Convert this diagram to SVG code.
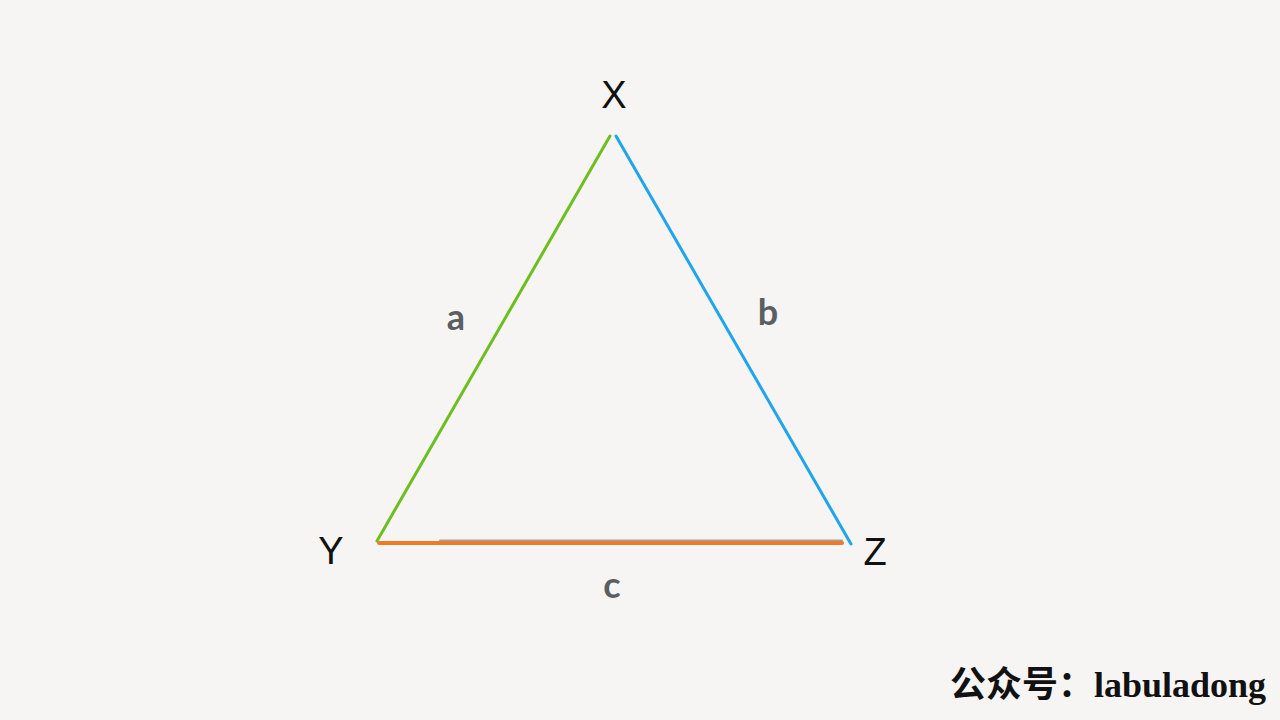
<svg xmlns="http://www.w3.org/2000/svg" width="1280" height="720" viewBox="0 0 1280 720">
<style>
.v{font-family:"Liberation Sans",Arial,sans-serif;font-size:38px;fill:#111;text-anchor:middle}
.e{font-family:"Lato","Open Sans",sans-serif;font-weight:bold;font-size:36px;fill:#5b5e62;text-anchor:middle}
.w{font-family:"Liberation Serif","Noto Sans CJK SC",serif;font-weight:bold;font-size:36px;fill:#111}
</style>
<rect width="1280" height="720" fill="#f6f5f3"/>
<g id="connectors" stroke-linecap="round">
<line x1="377" y1="541" x2="610" y2="136" stroke="#6bbf1f" stroke-width="3"/>
<line x1="616" y1="136" x2="851" y2="544" stroke="#1ea5ec" stroke-width="3"/>
<line x1="440" y1="540.5" x2="842" y2="540.5" stroke="#a0a0a0" stroke-width="2"/>
<line x1="379" y1="543" x2="842" y2="543" stroke="#ef7b2a" stroke-width="4"/>
</g>
<g id="X"><text class="v" x="614" y="108">X</text></g>
<g id="Y"><text class="v" x="331" y="564">Y</text></g>
<g id="Z"><text class="v" x="875" y="565">Z</text></g>
<g id="label-a"><text class="e" x="456" y="330">a</text></g>
<g id="label-b"><text class="e" x="768" y="325">b</text></g>
<g id="label-c"><text class="e" x="612" y="598">c</text></g>
<g id="watermark"><text class="w" x="950" y="697">公众号：labuladong</text></g>
</svg>
